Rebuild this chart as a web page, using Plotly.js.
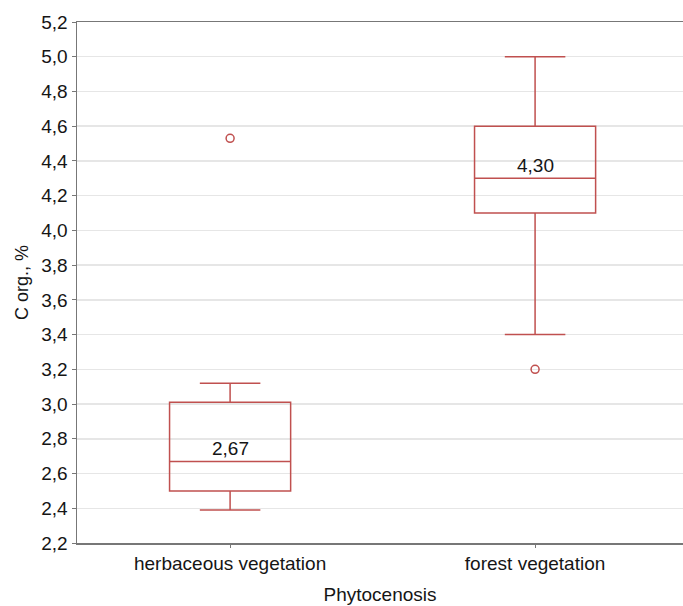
<!DOCTYPE html>
<html><head><meta charset="utf-8">
<script src="https://cdn.plot.ly/plotly-3.0.1.min.js"></script>
<style>body{margin:0;background:#fff}#chart{width:683px;height:606px}</style>
</head><body><div id="chart"></div>
<script>
const categories = ["herbaceous vegetation", "forest vegetation"];
const lowerWhisker = [2.39, 3.40];
const q1Values = [2.50, 4.10];
const medianValues = [2.67, 4.30];
const q3Values = [3.01, 4.60];
const upperWhisker = [3.12, 5.00];
const outlierCats = ["herbaceous vegetation", "forest vegetation"];
const outlierValues = [4.53, 3.20];
const medianLabels = ["2,67", "4,30"];
const yTicks = [2.2,2.4,2.6,2.8,3.0,3.2,3.4,3.6,3.8,4.0,4.2,4.4,4.6,4.8,5.0,5.2];

const red = '#c0504f';
const txt = '#151515';
const data = [
  {
    type: 'box',
    x: categories,
    q1: q1Values, median: medianValues, q3: q3Values,
    lowerfence: lowerWhisker, upperfence: upperWhisker,
    width: 0.397,
    whiskerwidth: 0.5,
    fillcolor: 'rgba(0,0,0,0)',
    line: {color: red, width: 1.5},
    boxpoints: false,
    hoverinfo: 'skip',
    showlegend: false
  },
  {
    type: 'scatter', mode: 'markers',
    x: outlierCats, y: outlierValues,
    marker: {symbol: 'circle-open', size: 8, color: red, line: {width: 1.5, color: red}},
    showlegend: false
  }
];
const annotations = categories.map((c, i) => ({
  x: c, y: medianValues[i], xref: 'x', yref: 'y',
  text: medianLabels[i], showarrow: false, yanchor: 'bottom', yshift: 0,
  font: {size: 19, color: txt}
}));
const layout = {
  width: 683, height: 606,
  margin: {l: 77, r: 0, t: 22, b: 63},
  paper_bgcolor: '#fff', plot_bgcolor: '#fff',
  separators: ',.',
  font: {family: 'Liberation Sans, Arial, sans-serif', color: txt, size: 18},
  showlegend: false,
  annotations: annotations,
  xaxis: {
    type: 'category', range: [-0.502, 1.485],
    showgrid: false, zeroline: false,
    showline: true, linecolor: '#777', linewidth: 1.5, mirror: true,
    ticks: 'outside', ticklen: 3, tickcolor: '#777',
    tickfont: {size: 19, color: txt},
    title: {text: 'Phytocenosis', font: {size: 19, color: txt}, standoff: 14}
  },
  yaxis: {
    range: [2.2, 5.2], tickvals: yTicks, tickformat: '.1f',
    showgrid: true, gridcolor: '#e6e6e6', gridwidth: 1.5, zeroline: false,
    showline: true, linecolor: '#777', linewidth: 1.5,
    ticks: 'outside', ticklen: 4, tickcolor: '#777',
    tickfont: {size: 19, color: txt},
    title: {text: 'C org., %', font: {size: 18, color: txt}, standoff: 8}
  }
};
Plotly.newPlot('chart', data, layout, {displayModeBar: false, staticPlot: true});
</script></body></html>
